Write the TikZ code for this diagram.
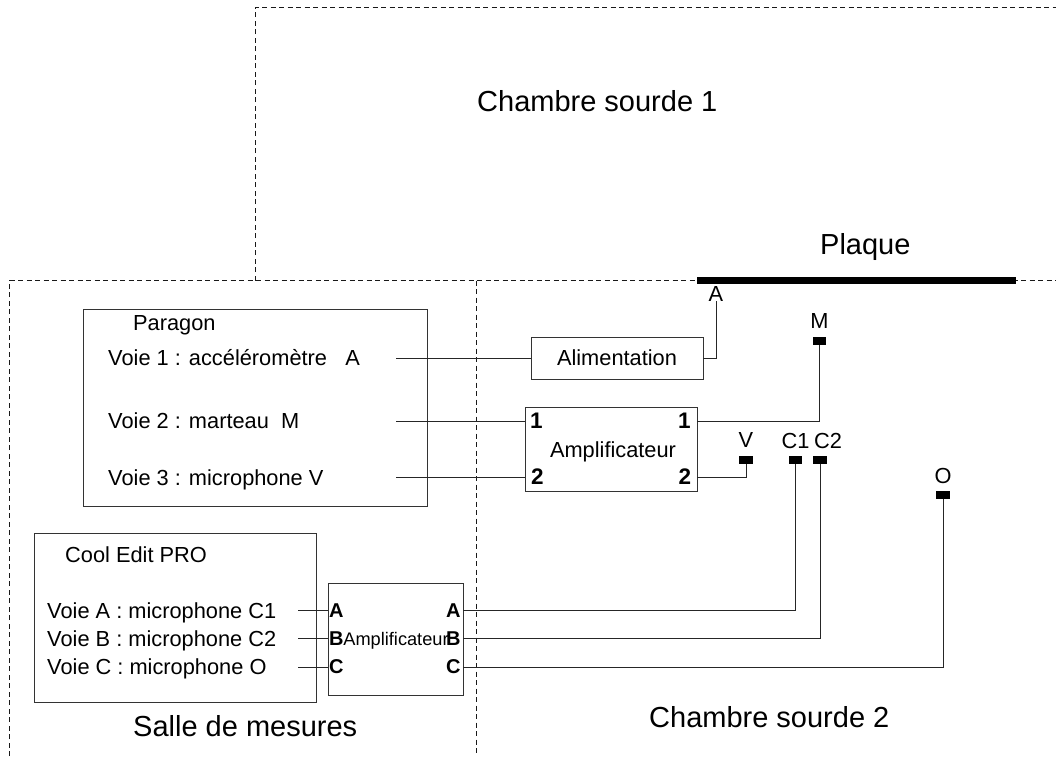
\documentclass[tikz,border=0pt]{standalone}
\usepackage{fontspec}
\setmainfont{Liberation Sans}
\usepackage{tikz}
\usetikzlibrary{positioning}

\begin{document}
\begin{tikzpicture}[x=1pt, y=-1pt,
  boite/.style={draw=black!80, line width=0.9pt, inner sep=0pt},
  capteur/.style={fill=black, inner sep=0pt, minimum width=13.5pt, minimum height=8pt},
  fil/.style={black!85, line width=0.9pt},
  mur/.style={black!90, line width=0.8pt, dash pattern=on 5pt off 3.5pt},
  et/.style={inner sep=0pt, anchor=base west, font=\fontsize{21.8}{24}\selectfont},
  pt/.style={inner sep=0pt, anchor=base west, font=\fontsize{20}{22}\selectfont\bfseries},
  ptn/.style={pt, font=\fontsize{22.5}{24}\selectfont\bfseries},
  piece/.style={inner sep=0pt, anchor=base west, font=\fontsize{29}{32}\selectfont}]
\useasboundingbox (0,0) rectangle (1056,756);
% pieces
\coordinate (hautg) at (255,280.5);
\coordinate (coin) at (255,7);
\coordinate (hautd) at (1056,7);
\coordinate (sepg) at (9,280.5);
\coordinate (sepd) at (1056,280.5);
\coordinate (basg) at (9,756);
\coordinate (cloih) at (476,280.5);
\coordinate (cloib) at (476,756);
\draw[mur] (hautg) -- (coin) -- (hautd);
\draw[mur] (basg) -- (sepg) -- (sepd);
\draw[mur] (cloih) -- (cloib);
\node[piece] (ch1) at (477,111) {Chambre sourde 1};
\node[piece] (ch2) at (649,727) {Chambre sourde 2};
\node[piece] (salle) at (133,736) {Salle de mesures};
\node[piece] (plaquetxt) at (820,254) {Plaque};
\node[fill=black, inner sep=0pt, minimum width=319pt, minimum height=7pt] (plaque) at (856.5,280.8) {};
% boites
\node[boite, minimum width=344pt, minimum height=197pt] (paragon) at (255,407.5) {};
\node[boite, minimum width=282pt, minimum height=169pt] (cool) at (175,617.5) {};
\node[boite, minimum width=172pt, minimum height=42pt, font=\fontsize{21.8}{24}\selectfont] (alim) at (617,358) {Alimentation};
\node[boite, minimum width=172pt, minimum height=84pt] (ampa) at (611,449) {};
\node[boite, minimum width=135pt, minimum height=112pt] (ampb) at (395.5,639) {};
\node[et, anchor=base] (ampatxt) at (613,457) {Amplificateur};
\node[et, anchor=base, font=\fontsize{18.2}{20}\selectfont] (ampbtxt) at (396,645) {Amplificateur};
% voies
\node[et] (titrep) at (133,330) {Paragon};
\node[et] (voie1) at (108,365.5) {Voie 1 : accéléromètre\ \ \ A};
\node[et] (voie2) at (108,428) {Voie 2 : marteau\ \ M};
\node[et] (voie3) at (108,485) {Voie 3 : microphone V};
\node[et] (titrec) at (65,562) {Cool Edit PRO};
\node[et] (voiea) at (47,618) {Voie A : microphone C1};
\node[et] (voieb) at (47,646) {Voie B : microphone C2};
\node[et] (voiec) at (47,674) {Voie C : microphone O};
\coordinate (p1) at (396,358);
\coordinate (p2) at (396,421);
\coordinate (p3) at (396,477);
\coordinate (ca) at (298,610);
\coordinate (cb) at (298,638);
\coordinate (cc) at (298,667);
% ports
\node[ptn] (e1) at (530,428) {1};
\node[ptn] (s1) at (678,428) {1};
\node[ptn] (e2) at (531,484) {2};
\node[ptn] (s2) at (678.5,484) {2};
\node[pt] (ea) at (329,617) {A};
\node[pt] (sa) at (446,617) {A};
\node[pt] (eb) at (329,645) {B};
\node[pt] (sb) at (446,645) {B};
\node[pt] (ec) at (329,673) {C};
\node[pt] (sc) at (446,673) {C};
% capteurs
\node[et, anchor=base] (capA) at (716,301) {A};
\node[capteur] (capM) at (819.5,341) {};
\node[et, anchor=base, above=8pt of capM] (txtM) {M};
\node[capteur] (capV) at (746,460) {};
\node[et, anchor=base, above=8pt of capV] (txtV) {V};
\node[capteur] (capC1) at (795.5,460) {};
\node[et, anchor=base, above=7pt of capC1] (txtC1) {C1};
\node[capteur] (capC2) at (820,460) {};
\node[et, anchor=base, above=7pt of capC2, xshift=8pt] (txtC2) {C2};
\node[capteur] (capO) at (943,495) {};
\node[et, anchor=base, above=7pt of capO] (txtO) {O};
% liaisons
\draw[fil] (p1) -- (p1 -| alim.west);
\draw[fil] (p2) -- (p2 -| ampa.west);
\draw[fil] (p3) -- (p3 -| ampa.west);
\draw[fil] (alim.east) -| (capA.south);
\draw[fil] (ampa.east |- p2) -| (capM.south);
\draw[fil] (ampa.east |- p3) -| (capV.south);
\draw[fil] (ca) -- (ca -| ampb.west);
\draw[fil] (cb) -- (cb -| ampb.west);
\draw[fil] (cc) -- (cc -| ampb.west);
\draw[fil] (ampb.east |- ca) -| (capC1.south);
\draw[fil] (ampb.east |- cb) -| (capC2.south);
\draw[fil] (ampb.east |- cc) -| (capO.south);
\end{tikzpicture}
\end{document}
